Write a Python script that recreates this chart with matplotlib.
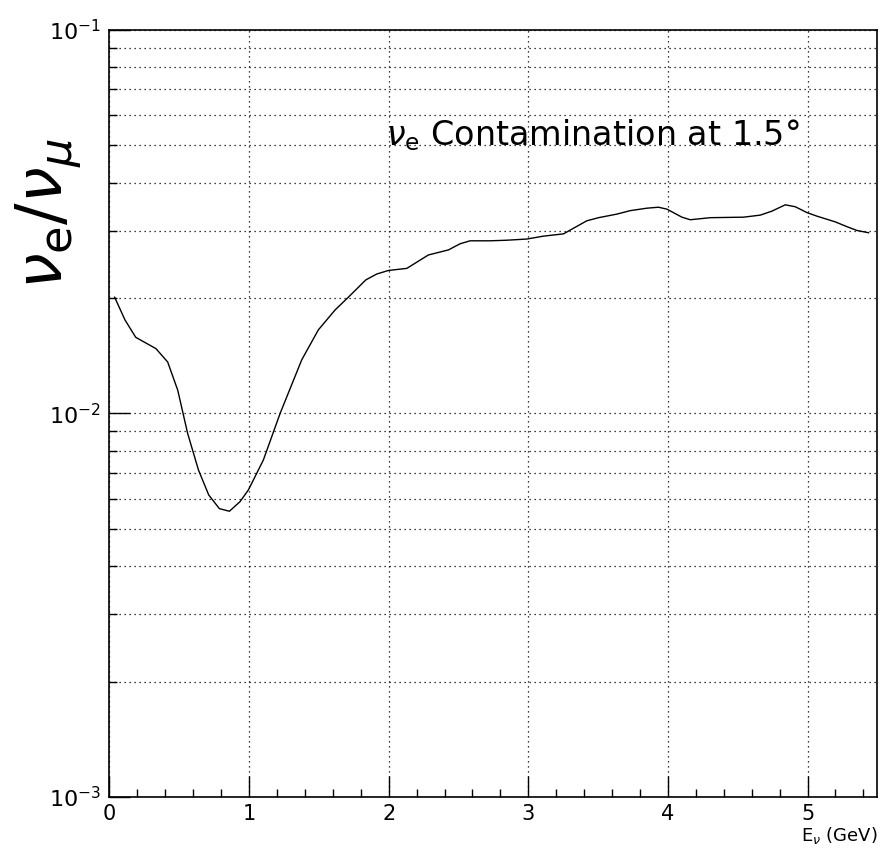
import numpy as np
import matplotlib.pyplot as plt
from matplotlib.ticker import LogLocator, MultipleLocator

plt.rcParams['mathtext.fontset'] = 'dejavusans'

# nu_e / nu_mu ratio vs neutrino energy
energy = [0.037, 0.111, 0.188, 0.333, 0.417, 0.489, 0.560, 0.637, 0.711, 0.787,
          0.859, 0.935, 0.995, 1.102, 1.222, 1.377, 1.496, 1.616, 1.711, 1.836,
          1.914, 1.998, 2.13, 2.284, 2.428, 2.511, 2.583, 2.726, 2.846, 2.989,
          3.108, 3.252, 3.323, 3.419, 3.503, 3.634, 3.730, 3.849, 3.932, 3.993,
          4.100, 4.160, 4.303, 4.542, 4.661, 4.745, 4.840, 4.912, 4.996, 5.067,
          5.198, 5.282, 5.354, 5.437]
ratio = [0.0201, 0.01754, 0.0158, 0.01476, 0.01362, 0.0115, 0.00887, 0.00713, 0.00613, 0.00565,
         0.00556, 0.00589, 0.00632, 0.00756, 0.0100, 0.0138, 0.01652, 0.01862, 0.0201, 0.0223,
         0.0231, 0.0236, 0.0239, 0.0259, 0.0267, 0.0277, 0.0282, 0.0282, 0.0283, 0.0285,
         0.0290, 0.0294, 0.0304, 0.0318, 0.0324, 0.0331, 0.0338, 0.0343, 0.0345, 0.0341,
         0.0325, 0.0320, 0.0324, 0.0325, 0.0329, 0.0337, 0.0350, 0.0346, 0.0334, 0.0327,
         0.0316, 0.0307, 0.0300, 0.0296]

fig = plt.figure(figsize=(8.8, 8.56), dpi=100)
ax = fig.add_axes([0.1244, 0.0689, 0.8726, 0.8961])

ax.plot(energy, ratio, color='black', lw=1.0)

ax.set_yscale('log')
ax.set_xlim(0, 5.5)
ax.set_ylim(1e-3, 1e-1)

ax.xaxis.set_major_locator(MultipleLocator(1))
ax.xaxis.set_minor_locator(MultipleLocator(0.2))
ax.yaxis.set_major_locator(LogLocator(base=10, numticks=10))
ax.yaxis.set_minor_locator(LogLocator(base=10, subs=np.arange(2, 10), numticks=10))

ax.tick_params(which='major', direction='in', length=15, width=1,
               top=False, right=False)
ax.tick_params(which='minor', direction='in', length=6, width=1,
               top=False, right=False)
ax.tick_params(axis='x', labelsize=15, pad=5)
ax.tick_params(axis='y', labelsize=16, pad=6)

ax.grid(True, which='major', axis='x', color='black', ls=(0, (1, 3)), lw=0.9)
ax.grid(True, which='both', axis='y', color='black', ls=(0, (1, 3)), lw=0.9)

for s in ax.spines.values():
    s.set_linewidth(1.2)

ax.text(1.98, 0.0501, r'$\nu_{\mathrm{e}}$ Contamination at 1.5$\degree$',
        fontsize=24, va='baseline', ha='left')

fig.text(0.055, 0.75, r'$\nu_{\mathrm{e}}/\nu_{\mu}$', fontsize=46,
         rotation=90, ha='center', va='center')
fig.text(0.997, 0.012, r'E$_{\nu}$ (GeV)', fontsize=13, ha='right', va='bottom')

fig.savefig('out.png', dpi=100)
